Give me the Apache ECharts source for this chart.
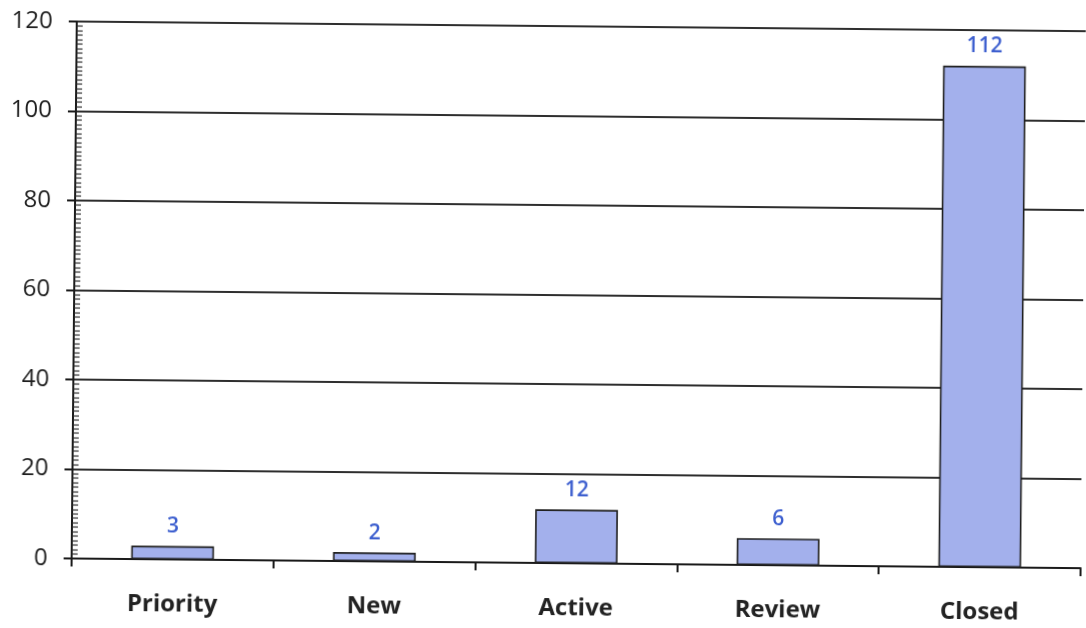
<!DOCTYPE html>
<html>
<head>
<meta charset="utf-8">
<script src="https://cdn.jsdelivr.net/npm/echarts@6/dist/echarts.min.js"></script>
<style>
  html, body { margin: 0; padding: 0; background: #ffffff; overflow: hidden; }
  #chart { width: 1086px; height: 628px; transform: rotate(0.55deg); transform-origin: 50% 50%; }
</style>
</head>
<body>
<div id="chart"></div>
<script>
// Ticket counts by status
const categories = ['Priority', 'New', 'Active', 'Review', 'Closed'];
const counts = [3, 2, 12, 6, 112];
const yMin = 0;
const yMax = 120;
const yStep = 20;

const chart = echarts.init(document.getElementById('chart'), null, { renderer: 'canvas' });

chart.setOption({
  backgroundColor: '#ffffff',
  animation: false,
  grid: { left: 74, right: 3, top: 26, bottom: 65, containLabel: false },
  xAxis: {
    type: 'category',
    data: categories,
    boundaryGap: true,
    axisLine: { show: true, lineStyle: { color: '#1a1a1a', width: 2 } },
    axisTick: { show: true, alignWithLabel: false, length: 8, lineStyle: { color: '#1a1a1a', width: 2 } },
    axisLabel: {
      margin: 33,
      color: '#222222',
      fontFamily: 'Open Sans',
      fontWeight: 'bold',
      fontSize: 24
    }
  },
  yAxis: [
    {
      type: 'value',
      min: yMin,
      max: yMax,
      interval: yStep,
      axisLine: { show: true, lineStyle: { color: '#1a1a1a', width: 2 } },
      axisTick: { show: true, inside: false, length: 8, lineStyle: { color: '#1a1a1a', width: 2 } },
      axisLabel: {
        margin: 24,
        color: '#1e1e1e',
        fontFamily: 'Open Sans',
        fontSize: 24
      },
      splitLine: { show: true, lineStyle: { color: '#2e2e2e', width: 2 } }
    },
    {
      // inner minor ticks along the value axis
      type: 'value',
      position: 'left',
      min: yMin,
      max: yMax,
      interval: yStep,
      axisLine: { show: false },
      axisTick: { show: false, inside: true },
      axisLabel: { show: false },
      splitLine: { show: false },
      minorTick: { show: true, splitNumber: 20, length: 6, lineStyle: { color: '#2a2a2a', width: 1.2 } }
    }
  ],
  series: [
    {
      type: 'bar',
      data: counts,
      yAxisIndex: 0,
      barWidth: '41%',
      itemStyle: { color: '#a3b0ec', borderColor: '#1f1f1f', borderWidth: 1.6 },
      label: {
        show: true,
        position: 'top',
        distance: 9,
        color: '#3d5fcf',
        fontFamily: 'Open Sans',
        fontWeight: 600,
        fontSize: 21
      }
    }
  ]
});
</script>
</body>
</html>
